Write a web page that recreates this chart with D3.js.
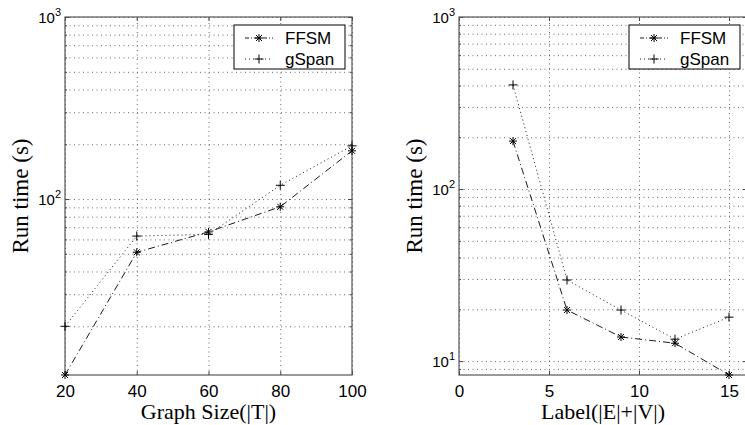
<!DOCTYPE html>
<html>
<head>
<meta charset="utf-8">
<script src="https://d3js.org/d3.v7.min.js"></script>
<style>
  body { margin: 0; background: #fff; }
  .tick text { font-family: "Liberation Sans", Arial, sans-serif; fill: #000; }
</style>
</head>
<body>
<svg id="chart" width="745" height="425"></svg>
<script>
// left panel: run time vs graph size
var sizeX = [20, 40, 60, 80, 100];
var sizeFFSM = [10.8, 51, 66, 90.7, 184];
var sizeGSpan = [20, 62.6, 64, 119, 196];

// right panel: run time vs number of labels
var labelX = [3, 6, 9, 12, 15];
var labelFFSM = [190, 19.8, 13.8, 12.7, 8.3];
var labelGSpan = [403, 29.6, 19.8, 13.4, 18];

var seriesNames = ["FFSM", "gSpan"];

var svg = d3.select("#chart");

var starPath = "M-4,0H4M0,-4V4M-3,-3L3,3M-3,3L3,-3";
var plusPath = "M-4.5,0H4.5M0,-4.5V4.5";

function logTicks(dom) {
  var major = [], minor = [];
  for (var e = -2; e <= 4; e++) {
    for (var m = 1; m <= 9; m++) {
      var v = m * Math.pow(10, e);
      if (v < dom[0] - 1e-9 || v > dom[1] + 1e-9) continue;
      if (m == 1) major.push(v); else minor.push(v);
    }
  }
  return {major: major, minor: minor};
}

function drawPanel(p) {
  var x = d3.scaleLinear().domain(p.xDomain).range([p.left, p.right]);
  var y = d3.scaleLog().domain(p.yDomain).range([p.bottom, p.top]);
  var h = p.bottom - p.top, w = p.right - p.left;
  var yt = logTicks(p.yDomain);
  var g = svg.append("g");

  // dotted grid
  g.append("g")
      .attr("transform", "translate(0," + p.bottom + ")")
      .call(d3.axisBottom(x).tickValues(p.xTicks).tickSize(-h).tickFormat(""))
      .call(function(a) { a.select(".domain").remove(); })
    .selectAll("line")
      .attr("stroke", "#444").attr("stroke-width", 0.8).attr("stroke-dasharray", "1,3.5");

  g.append("g")
      .attr("transform", "translate(" + p.left + ",0)")
      .call(d3.axisLeft(y).tickValues(yt.major.concat(yt.minor)).tickSize(-w).tickFormat(""))
      .call(function(a) { a.select(".domain").remove(); })
    .selectAll("line")
      .attr("stroke", "#444").attr("stroke-width", 0.8).attr("stroke-dasharray", "1,3.5");

  // inward ticks on all four sides
  var tickCol = "#444";
  g.append("g")
      .attr("transform", "translate(0," + p.bottom + ")")
      .call(d3.axisBottom(x).tickValues(p.xTicks).tickSizeInner(-4).tickSizeOuter(0).tickPadding(10))
      .call(function(a) { a.select(".domain").remove(); })
      .call(function(a) {
        a.selectAll("line").attr("stroke", tickCol);
        a.selectAll("text").attr("font-size", 17);
      });
  g.append("g")
      .attr("transform", "translate(0," + p.top + ")")
      .call(d3.axisTop(x).tickValues(p.xTicks).tickSize(-4).tickFormat(""))
      .call(function(a) { a.select(".domain").remove(); a.selectAll("line").attr("stroke", tickCol); });

  g.append("g")
      .attr("transform", "translate(" + p.left + ",0)")
      .call(d3.axisLeft(y).tickValues(yt.major).tickSize(-4).tickPadding(4))
      .call(function(a) {
        a.select(".domain").remove();
        a.selectAll("line").attr("stroke", tickCol);
        a.selectAll("text").each(function(d) {
          var t = d3.select(this);
          t.text("10").attr("font-size", 15).attr("dy", "0.36em");
          t.append("tspan").attr("dy", -7).attr("font-size", 11).text(Math.round(Math.log10(d)));
        });
      });
  g.append("g")
      .attr("transform", "translate(" + p.left + ",0)")
      .call(d3.axisLeft(y).tickValues(yt.minor).tickSize(-2).tickFormat(""))
      .call(function(a) { a.select(".domain").remove(); a.selectAll("line").attr("stroke", tickCol); });
  g.append("g")
      .attr("transform", "translate(" + p.right + ",0)")
      .call(d3.axisRight(y).tickValues(yt.major).tickSize(-4).tickFormat(""))
      .call(function(a) { a.select(".domain").remove(); a.selectAll("line").attr("stroke", tickCol); });
  g.append("g")
      .attr("transform", "translate(" + p.right + ",0)")
      .call(d3.axisRight(y).tickValues(yt.minor).tickSize(-2).tickFormat(""))
      .call(function(a) { a.select(".domain").remove(); a.selectAll("line").attr("stroke", tickCol); });

  // axes box
  g.append("rect")
      .attr("x", p.left).attr("y", p.top).attr("width", w).attr("height", h)
      .attr("fill", "none").attr("stroke", "#555").attr("stroke-width", 1.2);

  // series
  var styles = [
    {dash: "7,3,1,3", marker: starPath, vals: p.ffsm},
    {dash: "1,3", marker: plusPath, vals: p.gspan}
  ];
  var line = d3.line()
      .x(function(d) { return x(d[0]); })
      .y(function(d) { return y(d[1]); });

  styles.forEach(function(s) {
    var pts = p.xs.map(function(v, i) { return [v, s.vals[i]]; });
    g.append("path")
        .datum(pts)
        .attr("fill", "none")
        .attr("stroke", "#000")
        .attr("stroke-width", 0.9)
        .attr("stroke-dasharray", s.dash)
        .attr("d", line);
    g.selectAll(null)
        .data(pts)
        .enter().append("path")
        .attr("transform", function(d) { return "translate(" + x(d[0]) + "," + y(d[1]) + ")"; })
        .attr("d", s.marker)
        .attr("stroke", "#000")
        .attr("stroke-width", 1)
        .attr("fill", "none");
  });

  // axis titles
  g.append("text")
      .attr("x", (p.left + p.right) / 2 + p.xLabelShift)
      .attr("y", 419)
      .attr("text-anchor", "middle")
      .attr("font-family", "Liberation Serif, Times New Roman, serif")
      .attr("font-size", 22)
      .text(p.xLabel);
  g.append("text")
      .attr("transform", "translate(" + (p.left - 37) + "," + (p.top + p.bottom) / 2 + ") rotate(-90)")
      .attr("text-anchor", "middle")
      .attr("font-family", "Liberation Serif, Times New Roman, serif")
      .attr("font-size", 23)
      .text("Run time (s)");

  // legend
  var lx = p.legendX, ly = 25;
  var leg = g.append("g").attr("transform", "translate(" + lx + "," + ly + ")");
  leg.append("rect")
      .attr("width", 111).attr("height", 44)
      .attr("fill", "#fff").attr("stroke", "#000").attr("stroke-width", 1);
  seriesNames.forEach(function(name, i) {
    var cy = 13 + i * 21;
    leg.append("line")
        .attr("x1", 11).attr("x2", 39).attr("y1", cy).attr("y2", cy)
        .attr("stroke", "#000").attr("stroke-width", 0.9)
        .attr("stroke-dasharray", i == 0 ? "4,2,1,2" : "1,3");
    leg.append("path")
        .attr("transform", "translate(25," + cy + ")")
        .attr("d", styles[i].marker)
        .attr("stroke", "#000").attr("fill", "none");
    leg.append("text")
        .attr("x", 51).attr("y", cy + 6)
        .attr("font-family", "Liberation Sans, Arial, sans-serif")
        .attr("font-size", 17)
        .text(name);
  });
}

drawPanel({
  left: 65, right: 352, top: 17, bottom: 375,
  xDomain: [20, 100], xTicks: [20, 40, 60, 80, 100],
  yDomain: [10.8, 1000],
  xs: sizeX, ffsm: sizeFFSM, gspan: sizeGSpan,
  xLabel: "Graph Size(|T|)", xLabelShift: 0,
  legendX: 234
});

drawPanel({
  left: 459, right: 747, top: 17, bottom: 375,
  xDomain: [0, 16], xTicks: [0, 5, 10, 15],
  yDomain: [8.3, 1000],
  xs: labelX, ffsm: labelFFSM, gspan: labelGSpan,
  xLabel: "Label(|E|+|V|)", xLabelShift: 0,
  legendX: 629
});
</script>
</body>
</html>
